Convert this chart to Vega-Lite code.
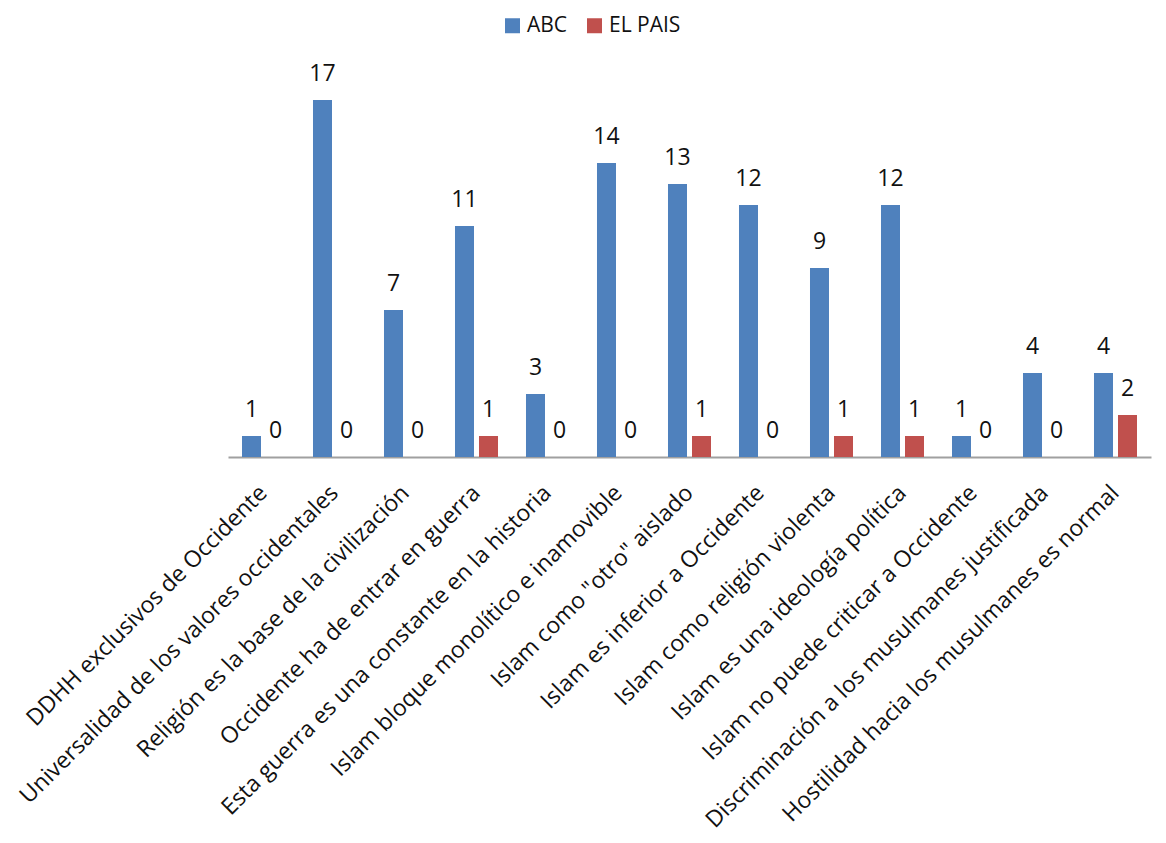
{
  "$schema": "https://vega.github.io/schema/vega-lite/v6.json",
  "width": 923,
  "height": 378,
  "autosize": {"type": "none"},
  "padding": {"left": 228, "top": 79, "right": 15, "bottom": 386},
  "config": {"view": {"stroke": null}, "font": "Open Sans"},
  "data": {
    "values": [
      {"cat": "DDHH exclusivos de Occidente", "medio": "ABC", "n": 1},
      {"cat": "DDHH exclusivos de Occidente", "medio": "EL PAIS", "n": 0},
      {"cat": "Universalidad de los valores occidentales", "medio": "ABC", "n": 17},
      {"cat": "Universalidad de los valores occidentales", "medio": "EL PAIS", "n": 0},
      {"cat": "Religión es la base de la civilización", "medio": "ABC", "n": 7},
      {"cat": "Religión es la base de la civilización", "medio": "EL PAIS", "n": 0},
      {"cat": "Occidente ha de entrar en guerra", "medio": "ABC", "n": 11},
      {"cat": "Occidente ha de entrar en guerra", "medio": "EL PAIS", "n": 1},
      {"cat": "Esta guerra es una constante en la historia", "medio": "ABC", "n": 3},
      {"cat": "Esta guerra es una constante en la historia", "medio": "EL PAIS", "n": 0},
      {"cat": "Islam bloque monolítico e inamovible", "medio": "ABC", "n": 14},
      {"cat": "Islam bloque monolítico e inamovible", "medio": "EL PAIS", "n": 0},
      {"cat": "Islam como \"otro\" aislado", "medio": "ABC", "n": 13},
      {"cat": "Islam como \"otro\" aislado", "medio": "EL PAIS", "n": 1},
      {"cat": "Islam es inferior a Occidente", "medio": "ABC", "n": 12},
      {"cat": "Islam es inferior a Occidente", "medio": "EL PAIS", "n": 0},
      {"cat": "Islam como religión violenta", "medio": "ABC", "n": 9},
      {"cat": "Islam como religión violenta", "medio": "EL PAIS", "n": 1},
      {"cat": "Islam es una ideología política", "medio": "ABC", "n": 12},
      {"cat": "Islam es una ideología política", "medio": "EL PAIS", "n": 1},
      {"cat": "Islam no puede criticar a Occidente", "medio": "ABC", "n": 1},
      {"cat": "Islam no puede criticar a Occidente", "medio": "EL PAIS", "n": 0},
      {"cat": "Discriminación a los musulmanes justificada", "medio": "ABC", "n": 4},
      {"cat": "Discriminación a los musulmanes justificada", "medio": "EL PAIS", "n": 0},
      {"cat": "Hostilidad hacia los musulmanes es normal", "medio": "ABC", "n": 4},
      {"cat": "Hostilidad hacia los musulmanes es normal", "medio": "EL PAIS", "n": 2}
    ]
  },
  "encoding": {
    "x": {
      "field": "cat",
      "type": "nominal",
      "sort": null,
      "scale": {"paddingInner": 0, "paddingOuter": 0},
      "axis": {
        "title": null,
        "labelAngle": -45,
        "labelAlign": "right",
        "labelBaseline": "middle",
        "labelFontSize": 23,
        "labelColor": "#111111",
        "labelPadding": 32,
        "labelLimit": 0,
        "labelOverlap": false,
        "ticks": false,
        "grid": false,
        "domainColor": "#A0A0A0",
        "domainWidth": 2
      }
    },
    "xOffset": {
      "field": "medio",
      "type": "nominal",
      "scale": {"paddingInner": 0.208, "paddingOuter": 0.583}
    },
    "y": {
      "field": "n",
      "type": "quantitative",
      "scale": {"domain": [0, 18]},
      "axis": null
    }
  },
  "layer": [
    {
      "mark": {"type": "bar"},
      "encoding": {
        "color": {
          "field": "medio",
          "type": "nominal",
          "scale": {"domain": ["ABC", "EL PAIS"], "range": ["#4F81BD", "#C0504D"]},
          "legend": {
            "title": null,
            "orient": "none",
            "direction": "horizontal",
            "legendX": 274,
            "legendY": -64,
            "symbolType": "square",
            "symbolSize": 225,
            "symbolStrokeWidth": 0,
            "labelFontSize": 21,
            "labelColor": "#111111",
            "labelOffset": 4,
            "columnPadding": 16
          }
        }
      }
    },
    {
      "mark": {"type": "text", "baseline": "alphabetic", "dy": -19, "fontSize": 23, "color": "#111111"},
      "encoding": {"text": {"field": "n", "type": "quantitative"}}
    }
  ]
}
